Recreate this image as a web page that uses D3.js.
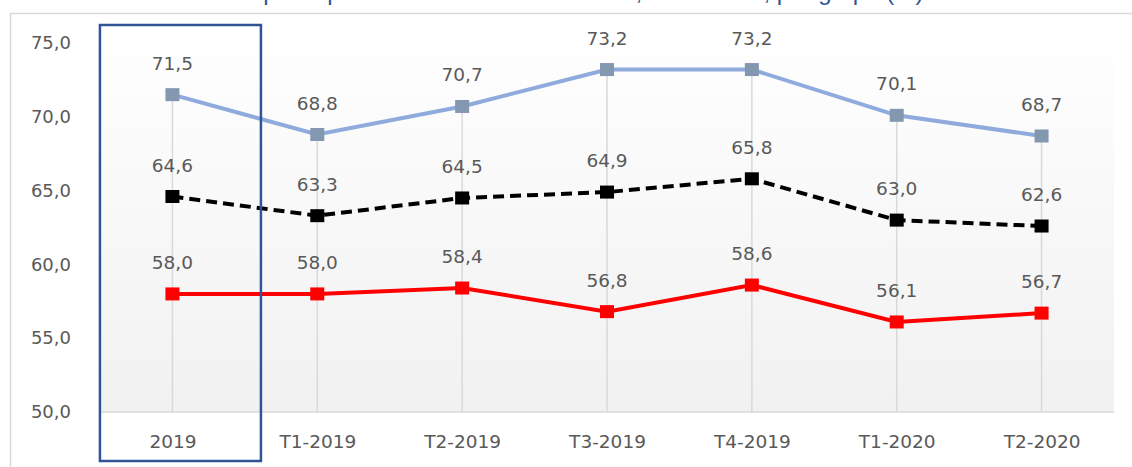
<!DOCTYPE html>
<html>
<head>
    <meta charset="utf-8">
    <script src="https://d3js.org/d3.v7.min.js"></script>
</head>

<style>
body {
    margin: 0;
    background: #ffffff;
}
text {
    font-family: "DejaVu Sans", sans-serif;
}
</style>

<body>
<div id="chart"></div>

<script>
    // Chart data
    var categories = ["2019", "T1-2019", "T2-2019", "T3-2019", "T4-2019", "T1-2020", "T2-2020"];
    var seriesTop = [71.5, 68.8, 70.7, 73.2, 73.2, 70.1, 68.7];
    var seriesMid = [64.6, 63.3, 64.5, 64.9, 65.8, 63.0, 62.6];
    var seriesLow = [58.0, 58.0, 58.4, 56.8, 58.6, 56.1, 56.7];
    var yTicks = [50, 55, 60, 65, 70, 75];
    var highlighted = "2019";
    var titleText = "Tasa de participación en el mercado laboral, 2019-2020, por grupo (%)";

    var width = 1132, height = 467;
    var plot = {left: 100, right: 1114, top: 26, bottom: 412};

    var svg = d3.select("#chart")
        .append("svg")
        .attr("width", width)
        .attr("height", height);

    // Scales
    var x = d3.scalePoint()
        .domain(categories)
        .range([plot.left, plot.right])
        .padding(0.5);
    var y = d3.scaleLinear()
        .domain([50, 75])
        .range([plot.bottom, 43]);

    var fmt = function(v) { return d3.format(".1f")(v).replace(".", ","); };

    // Title (mostly cut off at the top edge of the picture)
    svg.append("text")
        .attr("x", 548)
        .attr("y", 0)
        .attr("text-anchor", "middle")
        .style("font-family", "'Liberation Sans', sans-serif")
        .style("font-size", "24px")
        .style("fill", "#2f5597")
        .text(titleText);

    // Outer chart border
    svg.append("rect")
        .attr("x", 10.5).attr("y", 13.5)
        .attr("width", 1140).attr("height", 470)
        .style("fill", "none")
        .style("stroke", "#d9d9d9")
        .style("stroke-width", 1.5);

    // Plot area gradient
    var grad = svg.append("defs").append("linearGradient")
        .attr("id", "bg").attr("x1", 0).attr("y1", 0).attr("x2", 0).attr("y2", 1);
    grad.append("stop").attr("offset", "0%").attr("stop-color", "#ffffff");
    grad.append("stop").attr("offset", "100%").attr("stop-color", "#f1f1f1");

    svg.append("rect")
        .attr("x", plot.left).attr("y", plot.top)
        .attr("width", plot.right - plot.left)
        .attr("height", plot.bottom - plot.top)
        .style("fill", "url(#bg)");

    // Drop lines from the highest point of each category
    var maxVals = categories.map((c, i) => d3.max([seriesTop[i], seriesMid[i], seriesLow[i]]));
    svg.append("g").selectAll("line")
        .data(categories)
        .enter().append("line")
        .attr("x1", d => x(d)).attr("x2", d => x(d))
        .attr("y1", (d, i) => y(maxVals[i]))
        .attr("y2", plot.bottom)
        .style("stroke", "#d9d9d9")
        .style("stroke-width", 1.5);

    // Category axis line
    svg.append("line")
        .attr("x1", plot.left).attr("x2", plot.right)
        .attr("y1", plot.bottom).attr("y2", plot.bottom)
        .style("stroke", "#d9d9d9")
        .style("stroke-width", 1.5);

    // Y axis labels
    var yAxis = svg.append("g")
        .attr("transform", "translate(71,0)")
        .call(d3.axisLeft(y).tickValues(yTicks).tickSize(0).tickPadding(0).tickFormat(fmt));
    yAxis.select(".domain").remove();
    yAxis.selectAll("text")
        .style("font-family", "'DejaVu Sans', sans-serif")
        .style("font-size", "18px")
        .style("fill", "#595959");

    // X axis labels
    var xAxis = svg.append("g")
        .attr("transform", "translate(0," + plot.bottom + ")")
        .call(d3.axisBottom(x).tickSize(0).tickPadding(23));
    xAxis.select(".domain").remove();
    xAxis.selectAll("text")
        .style("font-family", "'DejaVu Sans', sans-serif")
        .style("font-size", "18.5px")
        .style("fill", "#595959");

    // Series
    var series = [
        {values: seriesTop, line: "#8faadc", marker: "#8497b0", dash: null},
        {values: seriesMid, line: "#000000", marker: "#000000", dash: "11,6"},
        {values: seriesLow, line: "#ff0000", marker: "#ff0000", dash: null}
    ];

    var lineGen = d3.line()
        .x((d, i) => x(categories[i]))
        .y(d => y(d));

    series.forEach(function(s) {
        svg.append("path")
            .datum(s.values)
            .attr("d", lineGen)
            .style("fill", "none")
            .style("stroke", s.line)
            .style("stroke-width", 4)
            .style("stroke-dasharray", s.dash);

        svg.append("g").selectAll("rect")
            .data(s.values)
            .enter().append("rect")
            .attr("x", (d, i) => x(categories[i]) - 7)
            .attr("y", d => y(d) - 6.5)
            .attr("width", 14)
            .attr("height", 13)
            .style("fill", s.marker);

        svg.append("g").selectAll("text")
            .data(s.values)
            .enter().append("text")
            .attr("x", (d, i) => x(categories[i]))
            .attr("y", d => y(d) - 25)
            .attr("text-anchor", "middle")
            .style("font-size", "18.5px")
            .style("fill", "#595959")
            .text(fmt);
    });

    // Highlight box around the first category
    var bw = x.step();
    svg.append("rect")
        .attr("x", x(highlighted) - 72.5)
        .attr("y", 25)
        .attr("width", 161)
        .attr("height", 436)
        .style("fill", "none")
        .style("stroke", "#2f5597")
        .style("stroke-width", 2.5);
</script>
</body>
</html>
